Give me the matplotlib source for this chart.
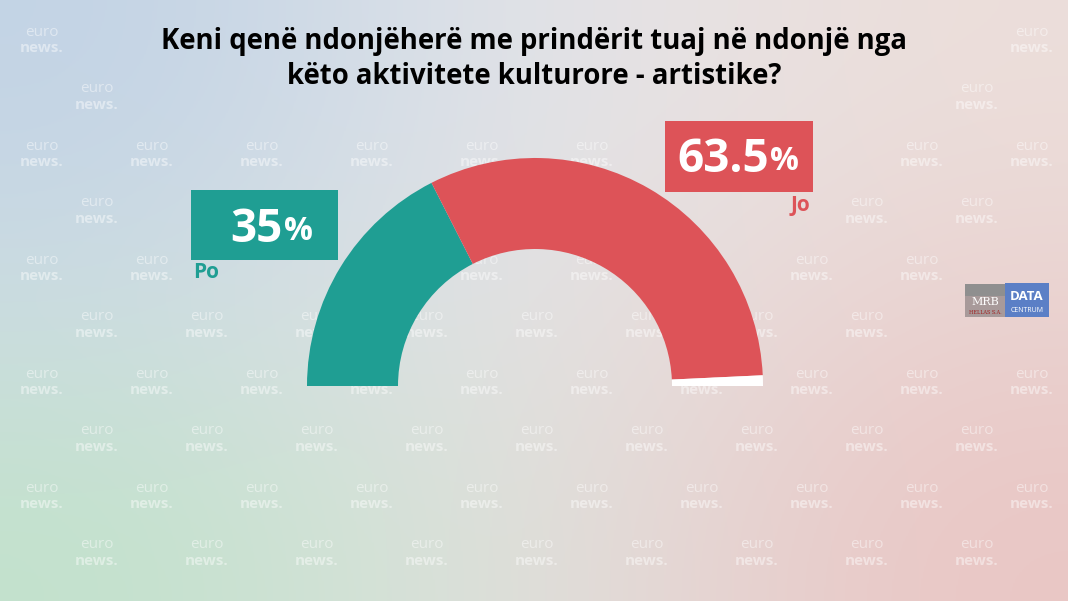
""" Semi-donut poll chart: cultural activities with parents """

import numpy as np
import matplotlib.pyplot as plt
from matplotlib.patches import Rectangle

# ----- data -----
title = "Keni qenë ndonjëherë me prindërit tuaj në ndonjë nga\nkëto aktivitete kulturore - artistike?"
labels = ["Po", "Jo"]
values = [35, 63.5]
value_text = ["35", "63.5"]
colors = ["#1f9e93", "#dd5358"]

W, H = 1068, 601
fig = plt.figure(figsize=(W / 100, H / 100), dpi=100)
ax = fig.add_axes([0, 0, 1, 1])

# ----- background gradient -----
corners = np.array([
    [[194, 211, 229], [228, 230, 234], [236, 222, 218]],
    [[204, 220, 226], [230, 229, 228], [234, 210, 208]],
    [[194, 226, 204], [226, 226, 224], [234, 198, 196]],
]) / 255.0
ax.imshow(corners, extent=(0, W, H, 0), interpolation="bicubic", zorder=0)

# areas kept clear of the watermark (title, value boxes, labels, logo)
keep_clear = [(150, 20, 920, 95), (185, 185, 345, 290), (660, 115, 820, 220),
              (960, 278, 1052, 322)]


def is_clear(x, y):
    for x0, y0, x1, y1 in keep_clear:
        if x + 28 > x0 and x - 28 < x1 and y + 18 > y0 and y - 18 < y1:
            return False
    return True


# ----- watermark pattern -----
for r in range(10):
    y = 40 + r * 57
    x0 = 42 if r % 2 == 0 else 97
    for x in np.arange(x0, W - 25, 110):
        if not is_clear(x, y):
            continue
        ax.text(x, y - 8, "euro", color="white", alpha=0.45, fontsize=11,
                family="Open Sans", ha="center", va="center", zorder=1)
        ax.text(x, y + 8, "news.", color="white", alpha=0.45, fontsize=11,
                family="Open Sans", fontweight="bold", ha="center", va="center", zorder=1)

# ----- half donut -----
cx, cy = 535, 386
rest = 100 - sum(values)
ax.pie(values + [rest, 100], colors=colors + ["white", "none"],
       startangle=180, counterclock=True, center=(cx, cy), radius=228,
       wedgeprops=dict(width=91, linewidth=0), frame=True)

ax.set_xlim(0, W)
ax.set_ylim(H, 0)
ax.set_aspect("auto")
ax.axis("off")

# ----- title -----
ax.text(534, 59, title, ha="center", va="center", fontsize=19.8,
        family="Open Sans", fontweight="bold", color="black",
        linespacing=1.3, zorder=5)

# ----- value boxes -----
boxes = [(191, 190, 147, 70, 283, 229), (665, 121, 148, 71, 769, 159)]
label_pos = [(193, 273, "left"), (810, 205, "right")]
for i, (bx, by, bw, bh, split, ty) in enumerate(boxes):
    ax.add_patch(Rectangle((bx, by), bw, bh, facecolor=colors[i], edgecolor="none", zorder=4))
    ax.text(split, ty, value_text[i], ha="right", va="center", fontsize=33,
            family="Open Sans", fontweight="bold", color="white", zorder=5)
    ax.text(split + 1, ty + 3, "%", ha="left", va="center", fontsize=23,
            family="Open Sans", fontweight="bold", color="white", zorder=5)
    lx, ly, ha = label_pos[i]
    ax.text(lx, ly, labels[i], ha=ha, va="center", fontsize=15,
            family="Open Sans", fontweight="bold", color=colors[i], zorder=5)

# ----- logo -----
ax.add_patch(Rectangle((965, 284), 40, 12, facecolor="#8f8f8f", edgecolor="none", zorder=4))
ax.add_patch(Rectangle((965, 296), 40, 21, facecolor="#a89a9a", edgecolor="none", zorder=4))
ax.text(985, 302, "MRB", ha="center", va="center", fontsize=8, family="DejaVu Serif",
        color="white", zorder=5)
ax.text(985, 313, "HELLAS S.A.", ha="center", va="center", fontsize=3.5, family="DejaVu Serif",
        color="#a02020", zorder=5)
ax.add_patch(Rectangle((1005, 283), 44, 34, facecolor="#5b7fc6", edgecolor="none", zorder=4))
ax.text(1027, 297, "DATA", ha="center", va="center", fontsize=9.5, family="Open Sans",
        fontweight="bold", color="white", zorder=5)
ax.text(1027, 310, "CENTRUM", ha="center", va="center", fontsize=5, family="Open Sans",
        color="white", zorder=5)

fig.savefig("out.png", dpi=100)
